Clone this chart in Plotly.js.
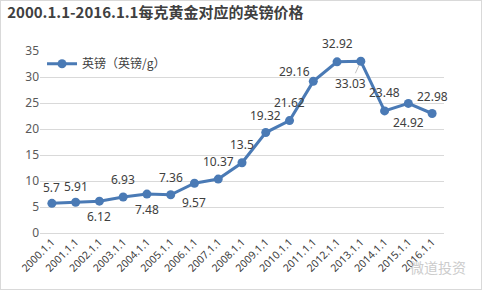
<!DOCTYPE html>
<html><head><meta charset="utf-8">
<script src="https://cdn.plot.ly/plotly-3.0.1.min.js"></script>
<style>
body{margin:0;padding:0;background:#fff;}
#wrap{position:relative;width:482px;height:290px;}
#chart{width:482px;height:290px;}
#frame{position:absolute;left:0;top:0;width:480px;height:288px;border:1px solid #d9d9d9;pointer-events:none;}
</style>
</head><body>
<div id="wrap"><div id="chart"></div><div id="frame"></div></div>
<script>
const categories = ['2000.1.1','2001.1.1','2002.1.1','2003.1.1','2004.1.1','2005.1.1','2006.1.1','2007.1.1','2008.1.1','2009.1.1','2010.1.1','2011.1.1','2012.1.1','2013.1.1','2014.1.1','2015.1.1','2016.1.1'];
const gbpPerGram = [5.7,5.91,6.12,6.93,7.48,7.36,9.57,10.37,13.5,19.32,21.62,29.16,32.92,33.03,23.48,24.92,22.98];
const yTicks = [0,5,10,15,20,25,30,35];
const seriesName = '英镑（英镑/g）';
const titleText = '2000.1.1-2016.1.1每克黄金对应的英镑价格';

// label offsets in pixels (style only)
const labelDx = [0,0,0,0,0,0,0,0,0,0,0,-19,0,-10,0,0,0];
const labelDy = [-16,-16,15,-17,15,-17,19,-18,-18,-17,-18,-10,-18,22,-18,19,-17];
const leader  = [false,false,false,false,false,false,false,false,false,false,false,true,false,true,false,false,false];

const color = '#4A7AB5';
const trace = {
  x: categories,
  y: gbpPerGram,
  type: 'scatter',
  mode: 'lines+markers',
  name: seriesName,
  line: {color: color, width: 3},
  marker: {color: color, size: 9},
  cliponaxis: false
};

const labelFont = {family: 'Noto Sans, DejaVu Sans, sans-serif', size: 12, color: '#404040'};
const labelAnns = categories.map((c, i) => leader[i] ? ({
  x: c, y: gbpPerGram[i], xref: 'x', yref: 'y', text: String(gbpPerGram[i]),
  showarrow: true, arrowhead: 0, arrowwidth: 0.7, arrowcolor: '#a6a6a6', standoff: 4,
  ax: labelDx[i], ay: -labelDy[i] * -1, font: labelFont
}) : ({
  x: c, y: gbpPerGram[i], xref: 'x', yref: 'y', text: String(gbpPerGram[i]),
  showarrow: false, xanchor: 'center', yanchor: 'middle', xshift: labelDx[i], yshift: -labelDy[i],
  font: labelFont
}));

const layout = {
  width: 482, height: 290,
  margin: {l: 40, r: 38, t: 51, b: 57},
  paper_bgcolor: '#ffffff', plot_bgcolor: '#ffffff',
  title: {text: '<b>' + titleText + '</b>', x: 0.015, xanchor: 'left', y: 0.955, yanchor: 'middle',
    font: {family: 'Noto Sans CJK SC, Noto Sans, sans-serif', size: 15, color: '#404040'}},
  xaxis: {type: 'category', range: [-0.5, 16.5], showgrid: false, showline: false, zeroline: false,
    ticks: '', tickangle: -45, tickfont: {family: 'Noto Sans, DejaVu Sans, sans-serif', size: 10.5, color: '#404040'}},
  yaxis: {range: [0, 35], tickvals: yTicks, showgrid: true, gridcolor: '#d9d9d9', gridwidth: 1,
    zeroline: true, zerolinecolor: '#d9d9d9', showline: false, ticks: '',
    tickfont: {family: 'Noto Sans, DejaVu Sans, sans-serif', size: 12, color: '#595959'}},
  showlegend: true,
  legend: {x: 0.005, y: 0.93, xanchor: 'left', yanchor: 'middle', bgcolor: 'rgba(255,255,255,0)',
    font: {family: 'Noto Sans CJK SC, sans-serif', size: 12, color: '#404040'}},
  annotations: labelAnns.concat([{xref: 'paper', yref: 'paper', x: 1.059, y: -0.187, xanchor: 'right', yanchor: 'middle',
    text: '微道投资', showarrow: false, font: {family: 'Noto Sans CJK SC, sans-serif', size: 14, color: '#cccccc'}}])
};

Plotly.newPlot('chart', [trace], layout, {displayModeBar: false, staticPlot: true});
</script>
</body></html>
